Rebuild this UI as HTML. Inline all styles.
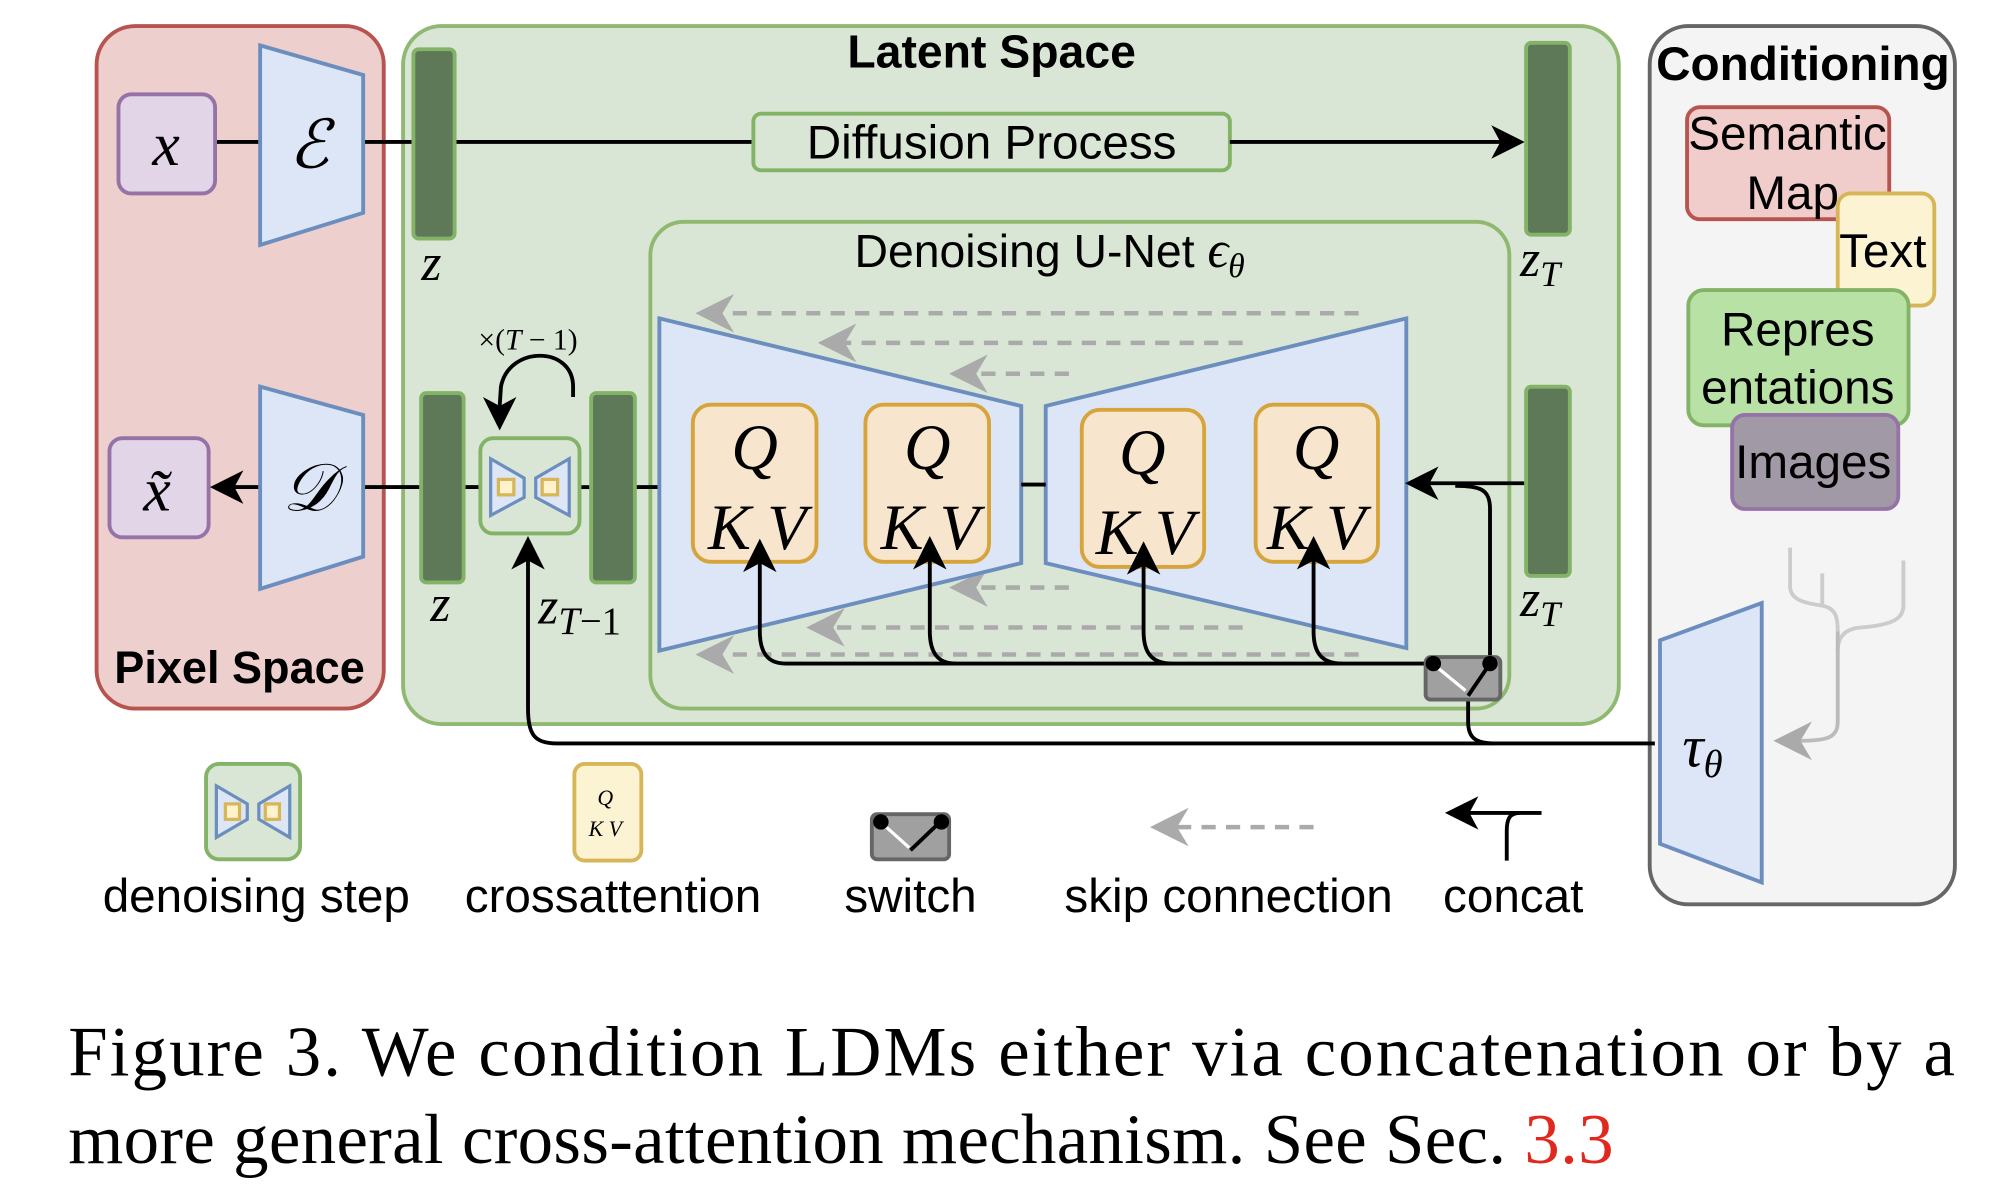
<!DOCTYPE html>
<html><head><meta charset="utf-8"><style>
html,body{margin:0;padding:0;background:#fff;}
svg{display:block;}
.s{font-family:"Liberation Sans",sans-serif;}
.m{font-family:"Liberation Serif",serif;font-style:italic;}
</style></head><body>
<svg width="2009" height="1188" viewBox="0 0 1560 922" xmlns="http://www.w3.org/2000/svg">
<defs>
<polygon id="a" points="0,0 -26,-13 -19,0 -26,13" fill="#000"/>
<polygon id="g" points="0,0 -30,-15 -21,0 -30,15" fill="#aaa"/>
</defs>
<!-- Pixel space -->
<rect x="75" y="20" width="223" height="530" rx="30" fill="#edcfcd" stroke="#b85450" stroke-width="3"/>
<text x="186" y="530" class="s" font-size="35" font-weight="bold" text-anchor="middle">Pixel Space</text>
<!-- Latent space -->
<rect x="313" y="20" width="944" height="542" rx="30" fill="#dae6d5" stroke="#8fb870" stroke-width="3"/>
<text x="770" y="52" class="s" font-size="36" font-weight="bold" text-anchor="middle">Latent Space</text>
<!-- Conditioning -->
<rect x="1281" y="20" width="237" height="682" rx="30" fill="#f4f4f4" stroke="#666" stroke-width="3"/>
<text x="1400" y="62" class="s" font-size="37" font-weight="bold" text-anchor="middle">Conditioning</text>

<!-- top row -->
<line x1="167" y1="110" x2="202" y2="110" stroke="#000" stroke-width="3"/>
<line x1="282" y1="110" x2="585" y2="110" stroke="#000" stroke-width="3"/>
<rect x="92" y="73" width="75" height="77" rx="10" fill="#e1d5e7" stroke="#9673a6" stroke-width="3"/>
<text x="129" y="128" class="m" font-size="48" text-anchor="middle">x</text>
<polygon points="202,35 282,58 282,165 202,190" fill="#dde6f7" stroke="#6c8ebf" stroke-width="3"/>
<text x="240" y="130" class="m" font-size="52" text-anchor="middle">ℰ</text>
<rect x="321" y="38" width="32" height="147" rx="4" fill="#5e7958" stroke="#82b366" stroke-width="3"/>
<text x="335" y="217" class="m" font-size="40" text-anchor="middle">z</text>
<rect x="585" y="88" width="370" height="44" rx="6" fill="#dae6d5" stroke="#82b366" stroke-width="3"/>
<text x="770" y="123" class="s" font-size="37" text-anchor="middle">Diffusion Process</text>
<line x1="955" y1="110" x2="1165" y2="110" stroke="#000" stroke-width="3"/>
<use href="#a" transform="translate(1184,110)"/>
<rect x="1185" y="33" width="34" height="149" rx="4" fill="#5e7958" stroke="#82b366" stroke-width="3"/>
<text x="1196" y="214" class="m" font-size="40" text-anchor="middle">z<tspan font-size="28" dy="8">T</tspan></text>

<!-- denoising unet -->
<rect x="505" y="172" width="667" height="378" rx="26" fill="#dae6d5" stroke="#8fb870" stroke-width="3"/>
<text x="815" y="207" class="s" font-size="36" text-anchor="middle">Denoising U-Net <tspan class="m" font-size="40">ϵ</tspan><tspan class="m" font-size="26" dy="8">θ</tspan></text>

<!-- bottom row -->
<line x1="282" y1="378" x2="328" y2="378" stroke="#000" stroke-width="3"/>
<line x1="360" y1="378" x2="373" y2="378" stroke="#000" stroke-width="3"/>
<line x1="450" y1="378" x2="459" y2="378" stroke="#000" stroke-width="3"/>
<line x1="493" y1="378" x2="512" y2="378" stroke="#000" stroke-width="3"/>
<rect x="85" y="340" width="77" height="77" rx="10" fill="#e1d5e7" stroke="#9673a6" stroke-width="3"/>
<text x="122" y="396" class="m" font-size="48" text-anchor="middle">x̃</text>
<line x1="202" y1="378" x2="180" y2="378" stroke="#000" stroke-width="3"/>
<use href="#a" transform="translate(163,378) rotate(180)"/>
<polygon points="202,300 282,322 282,432 202,457" fill="#dde6f7" stroke="#6c8ebf" stroke-width="3"/>
<text x="240" y="396" class="m" font-size="52" text-anchor="middle">𝒟</text>
<rect x="327" y="305" width="33" height="147" rx="4" fill="#5e7958" stroke="#82b366" stroke-width="3"/>
<text x="342" y="482" class="m" font-size="40" text-anchor="middle">z</text>
<rect x="373" y="340" width="77" height="74" rx="10" fill="#dae6d5" stroke="#82b366" stroke-width="3"/>
<polygon points="381,356 407,371 407,386 381,400" fill="#dde6f7" stroke="#6c8ebf" stroke-width="2.5"/>
<polygon points="442,356 416,371 416,386 442,400" fill="#dde6f7" stroke="#6c8ebf" stroke-width="2.5"/>
<rect x="387" y="372" width="12" height="12" fill="#fff2cc" stroke="#d6b656" stroke-width="2.5"/>
<rect x="421" y="372" width="12" height="12" fill="#fff2cc" stroke="#d6b656" stroke-width="2.5"/>
<rect x="459" y="305" width="34" height="147" rx="4" fill="#5e7958" stroke="#82b366" stroke-width="3"/>
<text x="418" y="484" class="m" font-size="40">z<tspan font-size="30" dy="8">T</tspan><tspan font-family="Liberation Serif" style="font-style:normal" font-size="30">−1</tspan></text>
<text x="410" y="271" class="m" font-size="23" text-anchor="middle"><tspan style="font-style:normal">×(</tspan>T<tspan style="font-style:normal"> − 1)</tspan></text>
<path d="M445,308 L445,300 C445,268 395,268 389,300 L388,315" fill="none" stroke="#000" stroke-width="3"/>
<use href="#a" transform="translate(388,334) rotate(90)"/>
<path d="M1285,577 L432,577 C415,577 410,570 410,550 L410,435" fill="none" stroke="#000" stroke-width="3"/>
<use href="#a" transform="translate(410,416) rotate(-90)"/>

<!-- skip connections -->
<g stroke="#aaa" stroke-width="3.5" stroke-dasharray="11,8" fill="none">
<line x1="1055" y1="243" x2="560" y2="243"/>
<line x1="965" y1="266" x2="655" y2="266"/>
<line x1="830" y1="290" x2="755" y2="290"/>
<line x1="830" y1="456" x2="755" y2="456"/>
<line x1="965" y1="487" x2="645" y2="487"/>
<line x1="1055" y1="508" x2="560" y2="508"/>
</g>
<use href="#g" transform="translate(540,243) rotate(180)"/>
<use href="#g" transform="translate(635,266) rotate(180)"/>
<use href="#g" transform="translate(737,290) rotate(180)"/>
<use href="#g" transform="translate(737,456) rotate(180)"/>
<use href="#g" transform="translate(626,487) rotate(180)"/>
<use href="#g" transform="translate(540,508) rotate(180)"/>
<polygon points="512,247 793,315 793,437 512,505" fill="#dde6f7" stroke="#6c8ebf" stroke-width="3"/>
<polygon points="812,315 1092,247 1092,503 812,437" fill="#dde6f7" stroke="#6c8ebf" stroke-width="3"/>
<line x1="793" y1="376" x2="812" y2="376" stroke="#000" stroke-width="3"/>
<g stroke="#d6a43a" stroke-width="3" fill="#f7e6cd">
<rect x="538" y="314" width="96" height="122" rx="14"/>
<rect x="672" y="314" width="96" height="122" rx="14"/>
<rect x="840" y="318" width="95" height="122" rx="14"/>
<rect x="975" y="314" width="95" height="122" rx="14"/>
</g>
<g class="m" font-size="50" text-anchor="middle">
<text x="586" y="364">Q</text><text x="588" y="426">K V</text>
<text x="720" y="364">Q</text><text x="722" y="426">K V</text>
<text x="887" y="368">Q</text><text x="889" y="430">K V</text>
<text x="1022" y="364">Q</text><text x="1022" y="426">K V</text>
</g>
<g fill="none" stroke="#000" stroke-width="3">
<path d="M1113,515 L610,515 C595,515 590,505 590,490 L590,435"/>
<path d="M742,515 C727,515 722,505 722,490 L722,433"/>
<path d="M910,515 C893,515 888,505 888,490 L888,437"/>
<path d="M1042,515 C1025,515 1020,505 1020,490 L1020,433"/>
<path d="M1185,375 L1108,375"/>
<path d="M1157,515 L1157,395 C1157,380 1150,377 1130,377"/>
<path d="M1157,515 L1140,538 L1140,560 C1140,572 1145,577 1160,577"/>
</g>
<use href="#a" transform="translate(590,418) rotate(-90)"/>
<use href="#a" transform="translate(722,416) rotate(-90)"/>
<use href="#a" transform="translate(888,420) rotate(-90)"/>
<use href="#a" transform="translate(1020,416) rotate(-90)"/>
<use href="#a" transform="translate(1091,375) rotate(180)"/>
<rect x="1107" y="510" width="58" height="33" rx="4" fill="#a0a0a0" stroke="#666" stroke-width="3"/>
<line x1="1116" y1="518" x2="1138" y2="536" stroke="#fff" stroke-width="2.5"/>
<line x1="1157" y1="515" x2="1140" y2="540" stroke="#000" stroke-width="3"/>
<circle cx="1113" cy="515" r="6" fill="#000"/><circle cx="1157" cy="515" r="6" fill="#000"/>
<rect x="1185" y="300" width="34" height="147" rx="4" fill="#5e7958" stroke="#82b366" stroke-width="3"/>
<text x="1196" y="478" class="m" font-size="40" text-anchor="middle">z<tspan font-size="28" dy="8">T</tspan></text>

<!-- conditioning content -->
<rect x="1310" y="83" width="157" height="87" rx="10" fill="#f0cccb" stroke="#b85450" stroke-width="3"/>
<text x="1388" y="116" class="s" font-size="37" text-anchor="middle">Semantic</text>
<text x="1392" y="162" class="s" font-size="37" text-anchor="middle">Map</text>
<rect x="1427" y="150" width="75" height="87" rx="10" fill="#fcf3d2" stroke="#d6b656" stroke-width="3"/>
<text x="1462" y="207" class="s" font-size="37" text-anchor="middle">Text</text>
<rect x="1311" y="225" width="171" height="105" rx="12" fill="#b8e2a5" stroke="#82b366" stroke-width="3"/>
<text x="1396" y="268" class="s" font-size="37" text-anchor="middle">Repres</text>
<text x="1396" y="313" class="s" font-size="37" text-anchor="middle">entations</text>
<rect x="1345" y="322" width="129" height="73" rx="10" fill="#a19aa6" stroke="#9673a6" stroke-width="3"/>
<text x="1408" y="371" class="s" font-size="37" text-anchor="middle">Images</text>
<g fill="none" stroke="#ccc" stroke-width="3">
<path d="M1390,425 L1390,455 C1390,465 1400,468 1415,470 C1425,472 1427,478 1427,490"/>
<path d="M1415,445 L1415,470"/>
<path d="M1478,435 L1478,470 C1478,480 1470,485 1445,487 C1432,488 1427,495 1427,505"/>
<path d="M1427,490 L1427,560 C1427,572 1420,575 1398,575" stroke="#bbb"/>
</g>
<use href="#g" transform="translate(1377,575) rotate(180)" fill="#bbb"/>
<polygon points="1289,497 1368,468 1368,685 1289,655" fill="#dde6f7" stroke="#6c8ebf" stroke-width="3"/>
<text x="1322" y="595" class="m" font-size="46" text-anchor="middle">τ<tspan font-size="30" dy="8">θ</tspan></text>

<!-- legend -->
<rect x="160" y="593" width="73" height="74" rx="10" fill="#dae6d5" stroke="#82b366" stroke-width="3"/>
<polygon points="168,610 192,624 192,636 168,650" fill="#dde6f7" stroke="#6c8ebf" stroke-width="2.5"/>
<polygon points="225,610 201,624 201,636 225,650" fill="#dde6f7" stroke="#6c8ebf" stroke-width="2.5"/>
<rect x="175" y="624" width="11" height="12" fill="#fff2cc" stroke="#d6b656" stroke-width="2.5"/>
<rect x="206" y="624" width="11" height="12" fill="#fff2cc" stroke="#d6b656" stroke-width="2.5"/>
<rect x="446" y="593" width="52" height="75" rx="8" fill="#fcf3d2" stroke="#d6b656" stroke-width="3"/>
<text x="470" y="625" class="m" font-size="17" text-anchor="middle">Q</text>
<text x="470" y="649" class="m" font-size="17" text-anchor="middle">K V</text>
<rect x="677" y="632" width="60" height="35" rx="4" fill="#a0a0a0" stroke="#666" stroke-width="3"/>
<line x1="686" y1="640" x2="706" y2="658" stroke="#fff" stroke-width="2.5"/>
<line x1="730" y1="638" x2="707" y2="660" stroke="#000" stroke-width="3"/>
<circle cx="684" cy="638" r="6" fill="#000"/><circle cx="731" cy="638" r="6" fill="#000"/>
<line x1="1020" y1="642" x2="912" y2="642" stroke="#aaa" stroke-width="3.5" stroke-dasharray="11,8"/>
<use href="#g" transform="translate(893,642) rotate(180)"/>
<path d="M1197,631 L1180,631 C1172,631 1170,636 1170,645 L1170,668" fill="none" stroke="#000" stroke-width="3"/>
<line x1="1180" y1="631" x2="1140" y2="631" stroke="#000" stroke-width="3"/>
<use href="#a" transform="translate(1122,631) rotate(180)"/>
<g class="s" font-size="37" text-anchor="middle">
<text x="199" y="708">denoising step</text>
<text x="476" y="708">crossattention</text>
<text x="707" y="708">switch</text>
<text x="954" y="708">skip connection</text>
<text x="1175" y="708">concat</text>
</g>

<!-- caption -->
<text x="53" y="835" font-family="Liberation Serif, serif" font-size="55" textLength="1465" lengthAdjust="spacing">Figure 3.   We condition LDMs either via concatenation or by a</text>
<text x="53" y="903" font-family="Liberation Serif, serif" font-size="55" textLength="1200" lengthAdjust="spacing">more general cross-attention mechanism. See Sec. <tspan fill="#e0281e">3.3</tspan></text>
</svg>
</body></html>
